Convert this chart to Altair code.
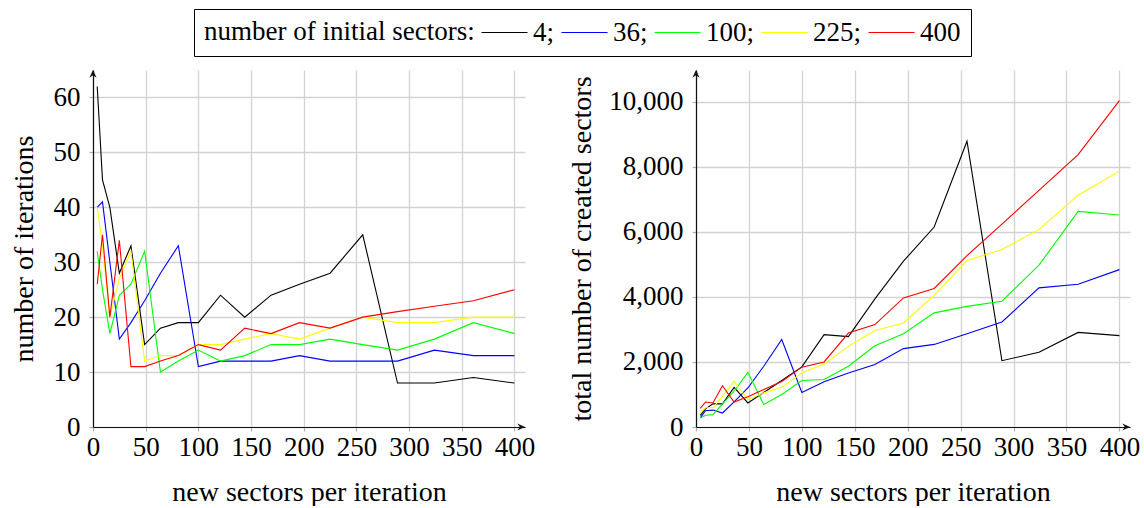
import altair as alt
import pandas as pd

# new sectors per iteration (perfect squares 2^2 .. 20^2)
new_sectors = [4, 9, 16, 25, 36, 49, 64, 81, 100, 121, 144, 169, 196, 225, 256, 289, 324, 361, 400]

initial_sectors = ["4", "36", "100", "225", "400"]
line_colors = ["#000000", "#0000ff", "#00ff00", "#ffff00", "#ff0000"]

# number of iterations, one list per number of initial sectors
iter_4 = [62, 45, 40, 28, 33, 15, 18, 19, 19, 24, 20, 24, 26, 28, 35, 8, 8, 9, 8]
iter_36 = [40, 41, 30, 16, 19, 23, 28, 33, 11, 12, 12, 12, 13, 12, 12, 12, 14, 13, 13]
iter_100 = [32, 25, 17, 24, 26, 32, 10, 12, 14, 12, 13, 15, 15, 16, 15, 14, 16, 19, 17]
iter_225 = [40, 33, 20, 27, 32, 12, 13, 13, 15, 15, 16, 17, 16, 18, 20, 19, 19, 20, 20]
iter_400 = [26, 35, 20, 34, 11, 11, 12, 13, 15, 14, 18, 17, 19, 18, 20, 21, 22, 23, 25]

# total number of created sectors
created_4 = [360, 560, 710, 710, 1220, 740, 1060, 1430, 1850, 2840, 2780, 3940, 5100, 6150, 8790, 2040, 2300, 2910, 2810]
created_36 = [280, 500, 520, 430, 770, 1200, 1870, 2690, 1060, 1390, 1660, 1920, 2410, 2540, 2870, 3230, 4280, 4390, 4840]
created_100 = [280, 360, 380, 710, 1100, 1680, 690, 1000, 1430, 1460, 1870, 2500, 2870, 3510, 3710, 3870, 4980, 6630, 6520]
created_225 = [440, 590, 590, 950, 1400, 840, 1050, 1220, 1660, 1940, 2480, 2970, 3200, 4050, 5120, 5460, 6070, 7130, 7870]
created_400 = [570, 770, 740, 1270, 770, 930, 1150, 1400, 1840, 2000, 2890, 3150, 3970, 4260, 5270, 6240, 7280, 8380, 10040]

iterations = [iter_4, iter_36, iter_100, iter_225, iter_400]
created = [created_4, created_36, created_100, created_225, created_400]

rows = []
for n, its, cs in zip(initial_sectors, iterations, created):
    for x, it, c in zip(new_sectors, its, cs):
        rows.append({"initial": n, "new": x, "iterations": it, "created": c})
df = pd.DataFrame(rows)

FONT = "Liberation Serif"
X_MAX = 410
ARROW = "M0,0 L0.8,1.7 L0,1.15 L-0.8,1.7 Z"
# legend sample line: 46 px long, ending just before its label
LEGEND_LINE = "M-2.833,0 L1,0"

color = alt.Color(
    "initial:N",
    scale=alt.Scale(domain=initial_sectors, range=line_colors),
    legend=alt.Legend(
        orient="none",
        legendX=101,
        legendY=-61,
        direction="horizontal",
        gridAlign="none",
        title="number of initial sectors:",
        titleOrient="left",
        titleLimit=600,
        titleFont=FONT,
        titleFontSize=27,
        titleFontWeight="normal",
        titleColor="black",
        titleBaseline="middle",
        titlePadding=27,
        labelFont=FONT,
        labelFontSize=27,
        labelColor="black",
        labelOffset=4,
        labelExpr="datum.label == '400' ? datum.label : datum.label + ';'",
        symbolType=LEGEND_LINE,
        symbolSize=576,
        symbolStrokeWidth=1.2,
        columnPadding=4,
        padding=10,
        strokeColor="black",
        fillColor="white",
    ),
    sort=initial_sectors,
)

x_axis = alt.Axis(
    values=list(range(0, 401, 50)),
    title="new sectors per iteration",
    titlePadding=18,
    labelPadding=3,
    labelFlush=False,
    labelOverlap=False,
    labelFont=FONT,
    titleFont=FONT,
)


def panel(field, y_max, y_values, y_title, y_format, width, title_pad):
    y_axis = alt.Axis(
        values=y_values,
        title=y_title,
        format=y_format,
        titlePadding=title_pad,
        labelPadding=9,
        labelOverlap=False,
        labelFont=FONT,
        titleFont=FONT,
    )
    x_scale = alt.Scale(domain=[0, X_MAX], nice=False, zero=False)
    y_scale = alt.Scale(domain=[0, y_max], nice=False, zero=False)
    lines = alt.Chart(df).mark_line(strokeWidth=1.1).encode(
        x=alt.X("new:Q", scale=x_scale, axis=x_axis),
        y=alt.Y(f"{field}:Q", scale=y_scale, axis=y_axis),
        color=color,
        order=alt.Order("new:Q"),
    )
    arrow_data = pd.DataFrame({"k": [0]})
    up = alt.Chart(arrow_data).mark_point(
        shape=ARROW, filled=True, size=81, color="#111", opacity=1
    ).encode(x=alt.datum(0), y=alt.datum(y_max))
    right = alt.Chart(arrow_data).mark_point(
        shape=ARROW, filled=True, size=81, color="#111", opacity=1, angle=90
    ).encode(x=alt.datum(X_MAX), y=alt.datum(0))
    return alt.layer(lines, up, right).properties(width=width, height=357)


left = panel("iterations", 65, list(range(0, 61, 10)), "number of iterations", "d", 432, 15)
right = panel("created", 10980, list(range(0, 10001, 2000)), "total number of created sectors", ",d", 434, 12)

chart = (
    alt.hconcat(left, right, spacing=33)
    .properties(padding={"left": 10, "top": 8, "right": 2, "bottom": 0}, background="white")
    .configure(font=FONT)
    .configure_view(strokeWidth=0)
    .configure_axis(
        labelFont=FONT,
        labelFontSize=27,
        labelColor="black",
        titleFont=FONT,
        titleFontSize=28,
        titleFontWeight="normal",
        titleColor="black",
        grid=True,
        gridColor="#d2d2d2",
        gridWidth=1.3,
        domainColor="#111",
        domainWidth=1.2,
        tickColor="#b0b0b0",
        tickSize=4,
        tickWidth=1.2,
    )
)

chart.save("out.html", embed_options={"renderer": "svg", "actions": False})
